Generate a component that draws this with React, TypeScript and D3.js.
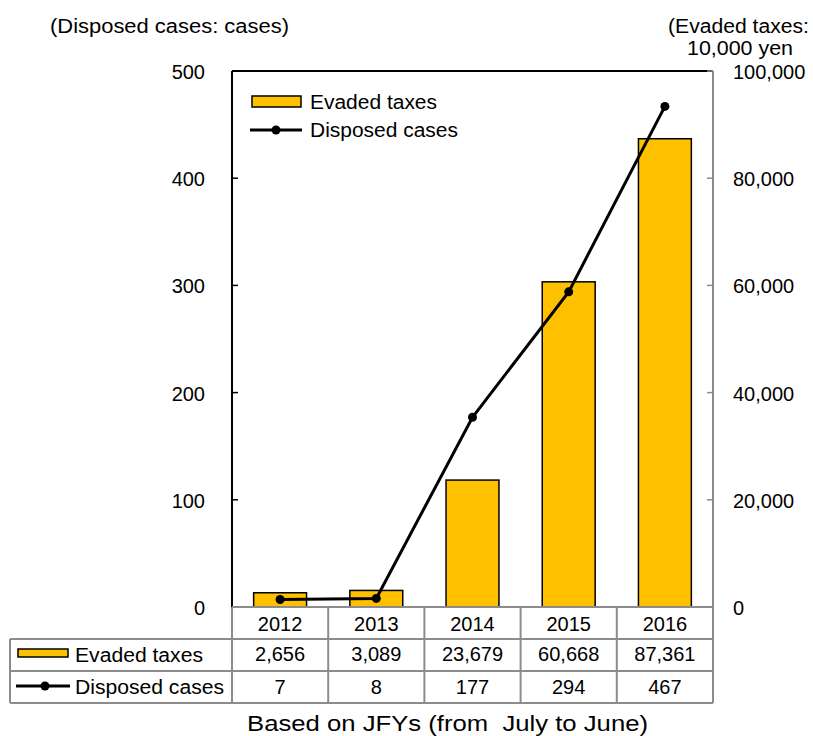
import * as React from 'react';
import * as d3 from 'd3';

const years = ['2012', '2013', '2014', '2015', '2016'];
const evadedTaxes = [2656, 3089, 23679, 60668, 87361];
const disposedCases = [7, 8, 177, 294, 467];
const leftTicks = [0, 100, 200, 300, 400, 500];
const rightTicks = [0, 20000, 40000, 60000, 80000, 100000];

const FONT = '"Liberation Sans", Arial, sans-serif';
const GOLD = '#FFC000';
const GRID = '#8c8c8c';

export default function App() {
  const left = 232, right = 713, top = 71, bottom = 607;
  const tableLeft = 10;
  const rows = [607, 639, 671, 703];

  const x = d3.scaleBand<string>().domain(years).range([left, right]).paddingInner(0.45).paddingOuter(0.225);
  const band = d3.scaleBand<string>().domain(years).range([left, right]);
  const yL = d3.scaleLinear().domain([0, 500]).range([bottom, top]);
  const yR = d3.scaleLinear().domain([0, 100000]).range([bottom, top]);
  const fmt = d3.format(',');
  const mid = (yr: string) => (band(yr) as number) + band.bandwidth() / 2;

  const line = d3.line<number>()
    .x((d, i) => mid(years[i]))
    .y(d => yL(d));

  return (
    <svg width={813} height={736} style={{ position: 'absolute', left: 0, top: 0 }} fontFamily={FONT} fontSize={20}>
      <rect width={813} height={736} fill="#fff" />

      {/* axis titles */}
      <text x={50} y={33} textLength={239} lengthAdjust="spacingAndGlyphs">(Disposed cases: cases)</text>
      <text x={668} y={33} textLength={141} lengthAdjust="spacingAndGlyphs">(Evaded taxes:</text>
      <text x={687} y={55} textLength={106} lengthAdjust="spacingAndGlyphs">10,000 yen</text>

      {/* bars */}
      {evadedTaxes.map((v, i) => (
        <rect key={years[i]} x={x(years[i])} y={yR(v)} width={x.bandwidth()} height={bottom - yR(v)}
          fill={GOLD} stroke="#000" strokeWidth={1.5} />
      ))}

      {/* frame */}
      <line x1={left} x2={right} y1={top} y2={top} stroke="#000" strokeWidth={2} />
      <line x1={left} x2={left} y1={top} y2={bottom} stroke="#000" strokeWidth={2} />
      <line x1={right} x2={right} y1={top} y2={bottom} stroke={GRID} strokeWidth={2} />

      {/* left ticks */}
      {leftTicks.map(t => (
        <g key={'l' + t}>
          <line x1={left} x2={left + 6} y1={yL(t)} y2={yL(t)} stroke="#000" strokeWidth={1.5} />
          <text x={205} y={yL(t) + 8} textAnchor="end">{t}</text>
        </g>
      ))}
      {/* right ticks */}
      {rightTicks.map(t => (
        <g key={'r' + t}>
          <line x1={right - 6} x2={right} y1={yR(t)} y2={yR(t)} stroke={GRID} strokeWidth={1.5} />
          <text x={733} y={yR(t) + 8}>{fmt(t)}</text>
        </g>
      ))}

      {/* line */}
      <path d={line(disposedCases) as string} fill="none" stroke="#000" strokeWidth={3} />
      {disposedCases.map((v, i) => (
        <circle key={'c' + i} cx={mid(years[i])} cy={yL(v)} r={4.5} fill="#000" />
      ))}

      {/* legend */}
      <rect x={252} y={96} width={49} height={11} fill={GOLD} stroke="#000" strokeWidth={1.5} />
      <text x={310} y={109} textLength={127} lengthAdjust="spacingAndGlyphs">Evaded taxes</text>
      <line x1={250} x2={302} y1={130} y2={130} stroke="#000" strokeWidth={3} />
      <circle cx={276} cy={130} r={4.5} fill="#000" />
      <text x={310} y={137} textLength={148} lengthAdjust="spacingAndGlyphs">Disposed cases</text>

      {/* data table */}
      <g stroke={GRID} strokeWidth={2}>
        <line x1={left} x2={right} y1={rows[0]} y2={rows[0]} />
        {rows.slice(1).map(r => <line key={'h' + r} x1={tableLeft} x2={right} y1={r} y2={r} />)}
        <line x1={tableLeft} x2={tableLeft} y1={rows[1]} y2={rows[3]} />
        {years.map(yr => (
          <line key={'v' + yr} x1={band(yr)} x2={band(yr)} y1={rows[0]} y2={rows[3]} />
        ))}
        <line x1={right} x2={right} y1={rows[0]} y2={rows[3]} />
      </g>
      {years.map((yr, i) => (
        <g key={'t' + yr} textAnchor="middle">
          <text x={mid(yr)} y={631}>{yr}</text>
          <text x={mid(yr)} y={661}>{fmt(evadedTaxes[i])}</text>
          <text x={mid(yr)} y={694}>{disposedCases[i]}</text>
        </g>
      ))}
      <rect x={18} y={649} width={50} height={8} fill={GOLD} stroke="#000" strokeWidth={1.5} />
      <text x={75} y={662} textLength={128} lengthAdjust="spacingAndGlyphs">Evaded taxes</text>
      <line x1={16} x2={70} y1={686} y2={686} stroke="#000" strokeWidth={3} />
      <circle cx={45} cy={686} r={4.5} fill="#000" />
      <text x={75} y={694} textLength={149} lengthAdjust="spacingAndGlyphs">Disposed cases</text>

      <text x={247} y={731} fontSize={22} textLength={401} lengthAdjust="spacingAndGlyphs">{'Based on JFYs (from\u00a0 July to June)'}</text>
    </svg>
  );
}
